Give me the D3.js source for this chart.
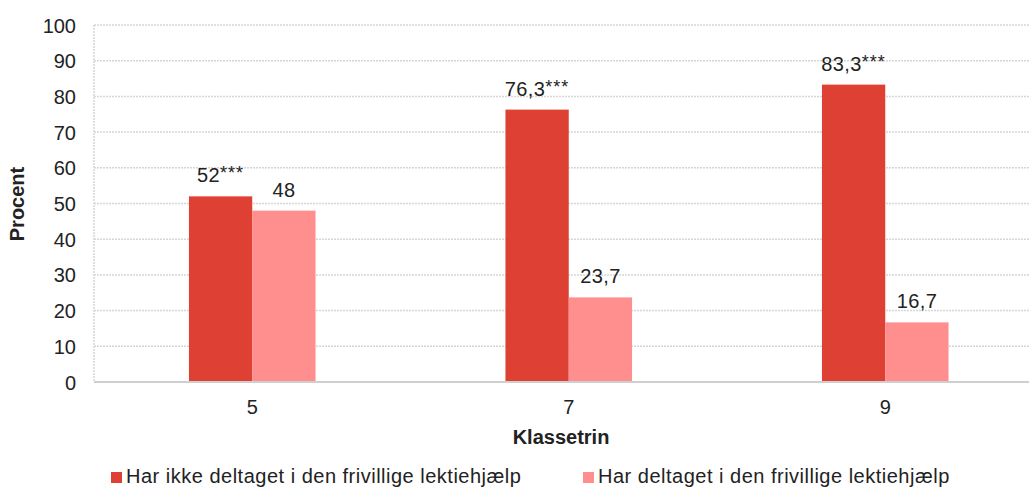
<!DOCTYPE html>
<html><head><meta charset="utf-8">
<script src="https://cdn.jsdelivr.net/npm/d3@7"></script>
<style>body{margin:0;background:#fff}svg{display:block}text{font-family:"Liberation Sans",Arial,sans-serif;fill:#222}</style>
</head><body><svg id="c" width="1029" height="487"></svg>
<script>
const categories = ["5", "7", "9"];
const seriesNames = ["Har ikke deltaget i den frivillige lektiehjælp", "Har deltaget i den frivillige lektiehjælp"];
const notParticipated = [52, 76.3, 83.3];
const participated = [48, 23.7, 16.7];
const significance = ["***", "***", "***"];
const yTicks = [0, 10, 20, 30, 40, 50, 60, 70, 80, 90, 100];
const colors = ["#de4133", "#ff8f8f"];

(function () {
const svg = d3.select("#c");
const pLeft = 94, pTop = 25, pBottom = 382, pRight = 1043.5;
const y = d3.scaleLinear().domain([0, 100]).range([pBottom, pTop]);
const x0 = d3.scaleBand().domain(categories).range([pLeft, pRight]);
const groupW = x0.bandwidth() * 0.4;
const x1 = d3.scaleBand().domain([0, 1]).range([0, groupW]);
const fmt = v => String(v).replace(".", ",");

svg.append("g").selectAll("line").data(yTicks.filter(d => d > 0)).join("line")
  .attr("x1", pLeft).attr("x2", 1029).attr("y1", d => y(d)).attr("y2", d => y(d))
  .attr("stroke", "#d6d6d6").attr("stroke-width", 1.5).attr("stroke-dasharray", "2,1");
svg.append("line").attr("x1", pLeft).attr("x2", pLeft).attr("y1", pTop).attr("y2", pBottom)
  .attr("stroke", "#d6d6d6").attr("stroke-width", 1.5).attr("stroke-dasharray", "2,1");

const yAxis = svg.append("g").attr("transform", `translate(${pLeft},0)`)
  .call(d3.axisLeft(y).tickValues(yTicks).tickSize(0).tickPadding(18));
yAxis.select(".domain").remove();
yAxis.selectAll("text").style("font-size", "20px").attr("fill", "#222").attr("dy", "0.35em");

const series = [notParticipated, participated];
series.forEach((vals, si) => {
  svg.append("g").selectAll("rect").data(categories).join("rect")
    .attr("x", (c) => x0(c) + (x0.bandwidth() - groupW) / 2 + x1(si))
    .attr("width", x1.bandwidth())
    .attr("y", (c, i) => y(vals[i]))
    .attr("height", (c, i) => pBottom - y(vals[i]))
    .attr("fill", colors[si]);
  const t = svg.append("g").selectAll("text").data(categories).join("text")
    .attr("x", (c) => x0(c) + (x0.bandwidth() - groupW) / 2 + x1(si) + x1.bandwidth() / 2)
    .attr("y", (c, i) => y(vals[i]) - 14)
    .attr("text-anchor", "middle").style("font-size", "20px").style("letter-spacing", "0.4px");
  t.append("tspan").text((c, i) => fmt(vals[i]));
  if (si === 0) t.append("tspan").attr("dy", "-3").style("font-size", "18px").style("letter-spacing", "1px").text((c, i) => significance[i]);
});

svg.append("line").attr("x1", pLeft).attr("x2", 1029).attr("y1", pBottom).attr("y2", pBottom)
  .attr("stroke", "#cfcfcf").attr("stroke-width", 2);
const xAxis = svg.append("g").attr("transform", `translate(0,${pBottom})`)
  .call(d3.axisBottom(x0).tickSize(0).tickPadding(18));
xAxis.select(".domain").remove();
xAxis.selectAll("text").style("font-size", "20px").attr("fill", "#222");

svg.append("text").attr("x", 561).attr("y", 444).attr("text-anchor", "middle")
  .style("font-size", "20px").style("font-weight", "bold").text("Klassetrin");
svg.append("text").attr("transform", "translate(24,204) rotate(-90)").attr("text-anchor", "middle")
  .style("font-size", "20px").style("font-weight", "bold").text("Procent");

const legX = [111, 583];
seriesNames.forEach((n, i) => {
  svg.append("rect").attr("x", legX[i]).attr("y", 472).attr("width", 11).attr("height", 11).attr("fill", colors[i]);
  svg.append("text").attr("x", legX[i] + 15).attr("y", 483).style("font-size", "20px").style("letter-spacing", "0.5px").text(n);
});
})();
</script></body></html>
